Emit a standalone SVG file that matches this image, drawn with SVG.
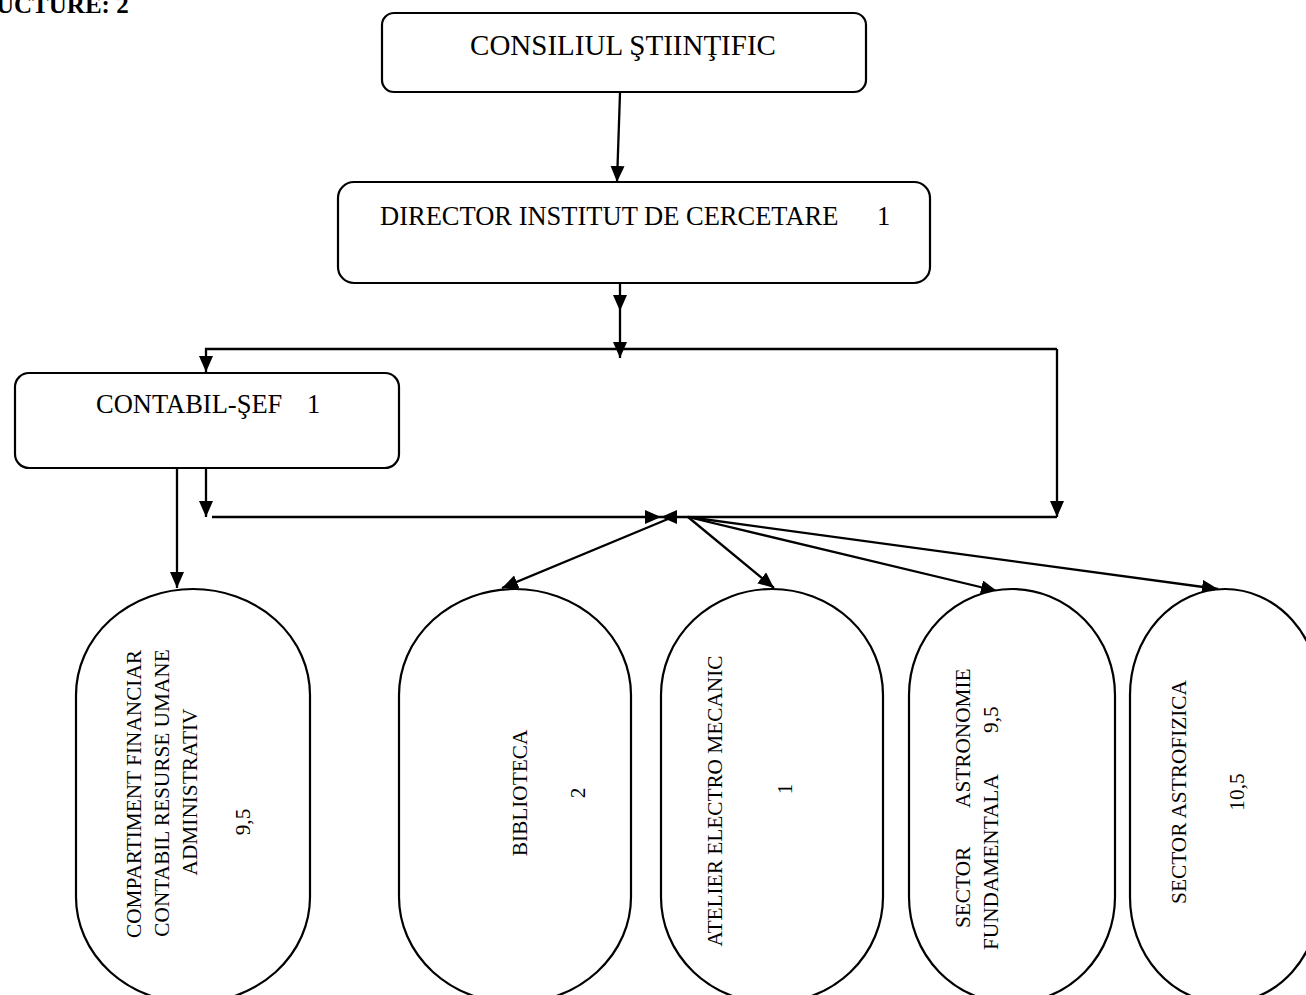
<svg xmlns="http://www.w3.org/2000/svg" width="1306" height="995" viewBox="0 0 1306 995">
<style>
.box{fill:#fff;stroke:#000;stroke-width:2.2}
.con{fill:none;stroke:#000;stroke-width:2.3}
.t{font-family:"Liberation Serif","Times New Roman",serif;fill:#000}
.big{font-size:29px}
.mid{font-size:26.5px}
.rot{font-size:21.3px}
</style>
<defs>
<marker id="ah" markerUnits="userSpaceOnUse" markerWidth="17" markerHeight="15" refX="16" refY="7" orient="auto" viewBox="0 0 17 15">
<path d="M0,0 L16,7 L0,14 z" fill="#000"/>
</marker>
</defs>
<rect width="1306" height="995" fill="#fff"/>
<text class="t" x="-4" y="13" font-size="25" font-weight="bold">UCTURE: 2</text>

<g id="connectors">
<path class="con" d="M620,93 L617,182" marker-end="url(#ah)"/>
<path class="con" d="M620,284 L620,311" marker-end="url(#ah)"/>
<path class="con" d="M620,311 L620,358" marker-end="url(#ah)"/>
<path class="con" d="M1057,349 L206,349 L206,372" marker-end="url(#ah)"/>
<path class="con" d="M1057,349 L1057,517" marker-end="url(#ah)"/>
<path class="con" d="M206,469 L206,517" marker-end="url(#ah)"/>
<path class="con" d="M177,469 L177,588" marker-end="url(#ah)"/>
<path class="con" d="M212,517 L661,517" marker-end="url(#ah)"/>
<path class="con" d="M1057,517 L661,517" marker-end="url(#ah)"/>
<path class="con" d="M668,519 L502,588" marker-end="url(#ah)"/>
<path class="con" d="M688,517 L774,588" marker-end="url(#ah)"/>
<path class="con" d="M688,517 L997,591" marker-end="url(#ah)"/>
<path class="con" d="M688,517 L1218,589" marker-end="url(#ah)"/>
</g>

<g id="consiliul">
<rect class="box" x="382" y="13" width="484" height="79" rx="12"/>
<text class="t big" x="623" y="55" text-anchor="middle">CONSILIUL ŞTIINŢIFIC</text>
</g>

<g id="director">
<rect class="box" x="338" y="182" width="592" height="101" rx="16"/>
<text class="t mid" x="380" y="225">DIRECTOR INSTITUT DE CERCETARE<tspan x="877">1</tspan></text>
</g>

<g id="contabil">
<rect class="box" x="15" y="373" width="384" height="95" rx="14"/>
<text class="t mid" x="96" y="413">CONTABIL-ŞEF<tspan x="307">1</tspan></text>
</g>

<g id="compartiment">
<rect class="box" x="76" y="589" width="234" height="414" rx="117" ry="106"/>
<g class="t rot" text-anchor="middle">
<text transform="translate(141,794) rotate(-90)">COMPARTIMENT FINANCIAR</text>
<text transform="translate(169,793) rotate(-90)">CONTABIL RESURSE UMANE</text>
<text transform="translate(197,792) rotate(-90)">ADMINISTRATIV</text>
<text transform="translate(250,822) rotate(-90)">9,5</text>
</g>
</g>

<g id="biblioteca">
<rect class="box" x="399" y="589" width="232" height="414" rx="116" ry="106"/>
<g class="t rot" text-anchor="middle">
<text transform="translate(527,793) rotate(-90)">BIBLIOTECA</text>
<text transform="translate(585,793) rotate(-90)">2</text>
</g>
</g>

<g id="atelier">
<rect class="box" x="661" y="589" width="222" height="414" rx="111" ry="106"/>
<g class="t rot" text-anchor="middle">
<text transform="translate(722,801) rotate(-90)">ATELIER ELECTRO MECANIC</text>
<text transform="translate(792,789) rotate(-90)">1</text>
</g>
</g>

<g id="astronomie">
<rect class="box" x="909" y="589" width="206" height="414" rx="103" ry="106"/>
<g class="t rot">
<text transform="translate(970,928) rotate(-90)">SECTOR</text>
<text transform="translate(970,808) rotate(-90)">ASTRONOMIE</text>
<text transform="translate(998,950) rotate(-90)">FUNDAMENTALA</text>
<text transform="translate(998,733) rotate(-90)">9,5</text>
</g>
</g>

<g id="astrofizica">
<rect class="box" x="1130" y="589" width="190" height="414" rx="95" ry="106"/>
<g class="t rot" text-anchor="middle">
<text transform="translate(1186,792) rotate(-90)">SECTOR ASTROFIZICA</text>
<text transform="translate(1244,792) rotate(-90)">10,5</text>
</g>
</g>
</svg>
